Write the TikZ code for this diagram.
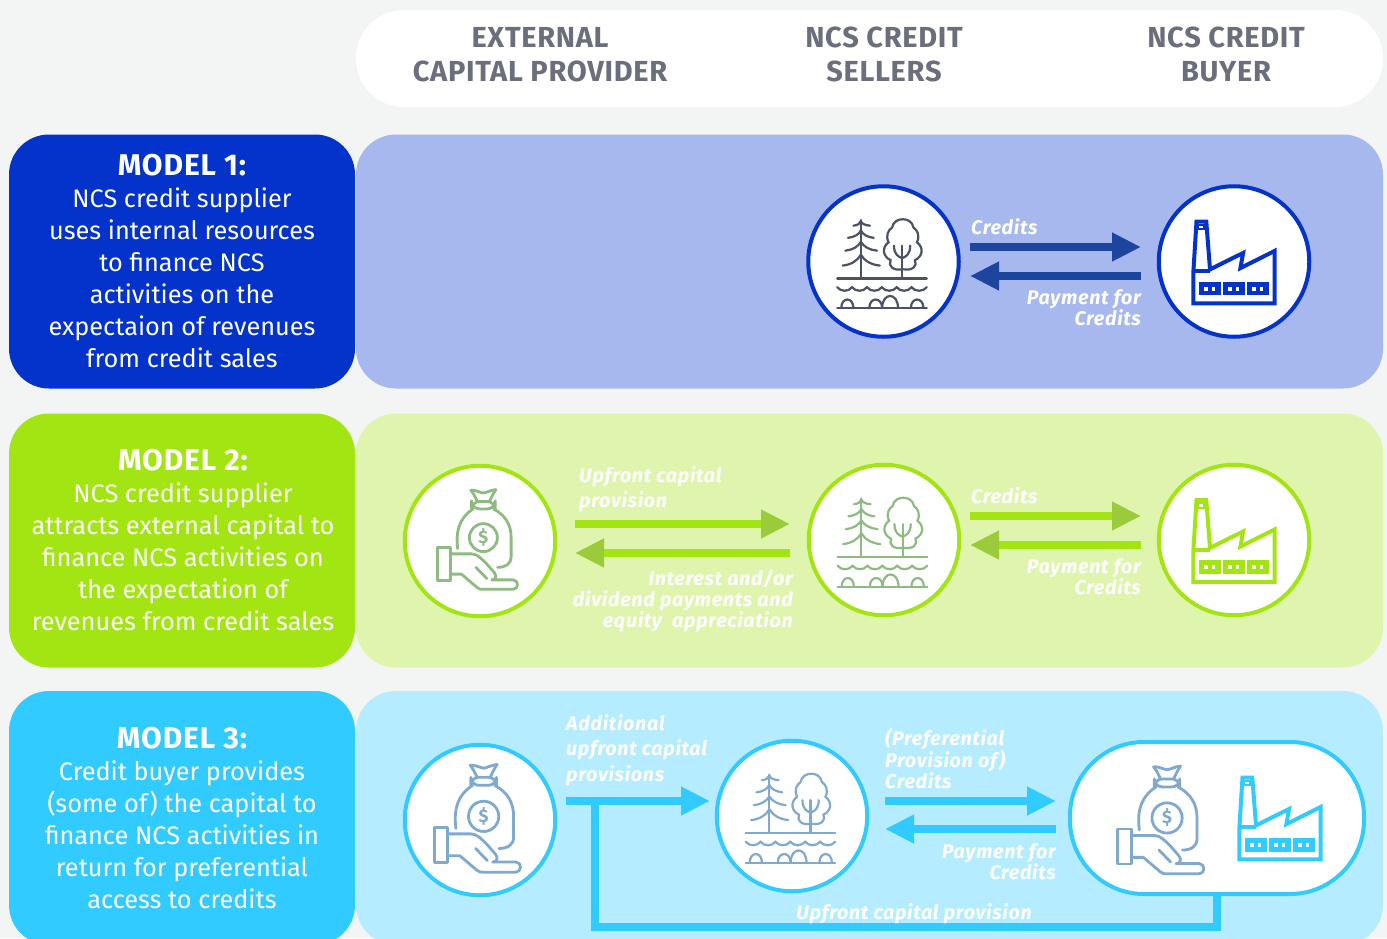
\documentclass[tikz,border=0pt]{standalone}
\usepackage{fontspec}
\setmainfont{Fira Sans}
\newfontfamily\lblfont[LetterSpace=3.5]{Fira Sans}
\newfontfamily\hdfont[LetterSpace=2.4]{Fira Sans}
\newfontfamily\ttlfont[LetterSpace=3]{Fira Sans}
\usetikzlibrary{arrows.meta}
\definecolor{bgc}{HTML}{F2F5F4}
\definecolor{hdc}{HTML}{6B6F7C}
\definecolor{mA}{HTML}{0433CC}
\definecolor{pA}{HTML}{A6B8EE}
\definecolor{arA}{HTML}{1D459F}
\definecolor{icA}{HTML}{4D5166}
\definecolor{mB}{HTML}{A2E512}
\definecolor{pB}{HTML}{DFF5AE}
\definecolor{hdB}{HTML}{9BCB3A}
\definecolor{icB}{HTML}{8DBB80}
\definecolor{mC}{HTML}{31CBFF}
\definecolor{pC}{HTML}{B6ECFF}
\definecolor{icC}{HTML}{80A9D0}
\newcommand{\modeltitle}[1]{{\ttlfont\fontsize{30}{34}\selectfont\bfseries #1}}
\tikzset{
 x=1pt,y=-1pt,
 modelbox/.style={rectangle,rounded corners=40pt,fill=#1,minimum width=346pt,minimum height=254pt,inner sep=0pt,outer sep=0pt},
 modeltext/.style={text=white,align=center,inner sep=0pt,font=\fontsize{25.3}{32}\selectfont},
 panel/.style={rectangle,rounded corners=40pt,fill=#1,minimum width=1027pt,minimum height=254pt,inner sep=0pt,outer sep=0pt},
 headtext/.style={text=hdc,align=center,font=\hdfont\fontsize{29}{34}\selectfont\bfseries},
 flowlabel/.style={text=white,inner sep=0pt,font=\lblfont\fontsize{19.7}{21}\selectfont\bfseries\itshape},
 flowlabelwide/.style={text=white,inner sep=0pt,font=\lblfont\fontsize{19.7}{25.5}\selectfont\bfseries\itshape},
 partycircle/.style={circle,draw=#1,fill=white,line width=4pt,minimum size=150.5pt,inner sep=0pt,outer sep=0pt},
 flowarrow/.style={line width=8pt,draw=#1,-{Triangle[length=29pt,width=27pt,color=#1]}},
 flowarrowtwo/.style={line width=8pt,draw=mB,-{Triangle[length=29pt,width=27pt,color=hdB]}},
 forest/.pic={
  \begin{scope}[x=.338pt,y=-.338pt,shift={(-247,-272)},draw=#1,line width=2.2pt,line cap=round]
   \draw (180,150)--(180,322);
   \draw (158,166) .. controls (170,165) and (178,160) .. (180,152) .. controls (182,160) and (192,165) .. (207,166);
   \draw (142,202) .. controls (160,200) and (175,192) .. (180,180) .. controls (185,192) and (200,200) .. (218,202);
   \draw (134,240) .. controls (155,238) and (172,228) .. (180,214) .. controls (188,228) and (206,238) .. (228,240);
   \draw (126,284) .. controls (150,282) and (170,270) .. (180,252) .. controls (190,270) and (212,282) .. (236,284);
   \draw (302,295) .. controls (275,300) and (260,285) .. (268,268)
     .. controls (246,258) and (240,232) .. (262,215)
     .. controls (252,195) and (262,178) .. (272,172)
     .. controls (276,152) and (292,147) .. (304,147)
     .. controls (316,147) and (332,152) .. (336,172)
     .. controls (346,178) and (356,195) .. (346,215)
     .. controls (368,232) and (362,258) .. (340,268)
     .. controls (348,285) and (333,300) .. (306,295);
   \draw (302,225)--(302,322);
   \draw (278,225) .. controls (278,250) and (290,258) .. (302,262);
   \draw (326,225) .. controls (326,250) and (314,258) .. (302,262);
   \draw (110,322)--(375,322);
   \draw (110,410)--(375,410);
   \draw (110,348) .. controls (120,362) and (144,362) .. (154,348) .. controls (164,362) and (188,362) .. (198,348)
     .. controls (208,362) and (232,362) .. (242,348) .. controls (252,362) and (276,362) .. (286,348)
     .. controls (296,362) and (320,362) .. (330,348) .. controls (340,362) and (365,362) .. (375,348);
   \draw (122,410) .. controls (122,376) and (158,376) .. (158,410);
   \draw (205,410) .. controls (205,376) and (243,376) .. (243,410);
   \draw (243,410) .. controls (243,362) and (290,362) .. (290,410);
   \draw (328,410) .. controls (328,376) and (365,376) .. (365,410);
  \end{scope}},
 factory/.pic={
  \begin{scope}[x=.338pt,y=-.33pt,shift={(-1283,-272)}]
   \draw[#1,line width=4pt,miter limit=10] (1163,399)--(1163,300)--(1172,151)--(1201,151)--(1212,296)--(1310,246)--(1302,292)--(1403,240)--(1403,399)--cycle;
   \draw[#1,line width=4pt] (1163,302)--(1212,302);
   \draw[#1,line width=2pt] (1176,160) rectangle (1195,174);
   \foreach \wx in {1180,1251,1322}{
     \fill[#1] (\wx,333) rectangle ++(64,42);
     \fill[white] (\wx+14,348) rectangle ++(11,12);
     \fill[white] (\wx+37,348) rectangle ++(11,12);
   }
  \end{scope}},
 moneybag/.pic={
  \begin{scope}[x=.338pt,y=-.338pt,shift={(-270,-272)},draw=#1,line width=2.8pt,line cap=round,line join=round]
   \draw (262,155) .. controls (255,140) and (250,130) .. (243,122) .. controls (255,120) and (268,128) .. (280,130) .. controls (292,128) and (305,120) .. (317,120) .. controls (310,130) and (305,140) .. (298,155);
   \draw[rounded corners=8pt] (245,155) rectangle (315,177);
   \draw (204,295) .. controls (198,250) and (205,205) .. (250,177);
   \draw (310,177) .. controls (345,195) and (362,225) .. (362,260) -- (362,320) .. controls (362,340) and (345,350) .. (322,350);
   \draw (280,262) circle[radius=14pt];
   \node[text=#1,inner sep=0pt,font=\fontsize{18}{18}\selectfont\bfseries] (dollar) at (280,262) {\$};
   \draw (145,292) rectangle (182,388);
   \draw (182,310) -- (245,310) .. controls (262,310) and (275,325) .. (290,340) -- (312,365) .. controls (322,378) and (315,387) .. (305,387);
   \draw (258,350) -- (290,383);
   \draw (182,370) -- (215,370) -- (262,410) .. controls (268,415) and (272,415) .. (280,415) -- (368,415) .. controls (385,415) and (385,387) .. (368,387) -- (305,387);
  \end{scope}}
}
\begin{document}
\begin{tikzpicture}
\clip (0,0) rectangle (1387,938);
\fill[bgc] (0,0) rectangle (1387,938);
% header
\node[rectangle,rounded corners=48pt,fill=white,minimum width=1027pt,minimum height=97pt,inner sep=0pt] (header) at (869.5,58.5) {};
\node[headtext] (h1) at (540,54.5) {EXTERNAL\\CAPITAL PROVIDER};
\node[headtext] (h2) at (884,54.5) {NCS CREDIT\\SELLERS};
\node[headtext] (h3) at (1226,54.5) {NCS CREDIT\\BUYER};
% panels
\node[panel=pA] (p1) at (869.5,261.5) {};
\node[panel=pB] (p2) at (869.5,540.5) {};
\node[panel=pC] (p3) at (869.5,818) {};
\node[modelbox=mA] (m1) at (182,261.5) {};
\node[modelbox=mB] (m2) at (182,540.5) {};
\node[modelbox=mC] (m3) at (182,818) {};
\node[modeltext] (t1) at (182,261) {\modeltitle{MODEL 1:}\\NCS credit supplier\\uses internal resources\\to finance NCS\\activities on the\\expectaion of revenues\\from credit sales};
\node[modeltext] (t2) at (183,540) {\modeltitle{MODEL 2:}\\NCS credit supplier\\attracts external capital to\\finance NCS activities on\\the expectation of\\revenues from credit sales};
\node[modeltext] (t3) at (182,818) {\modeltitle{MODEL 3:}\\Credit buyer provides\\(some of) the capital to\\finance NCS activities in\\return for preferential\\access to credits};
% model 1
\node[partycircle=mA] (s1) at (883.5,261.5) {};
\node[partycircle=mA] (b1) at (1234,261.5) {};
\pic at (s1) {forest=icA};
\pic at (b1) {factory=mA};
\coordinate (a1s) at (970,247); \coordinate (a1e) at (1141,247);
\coordinate (a2s) at (1141,276); \coordinate (a2e) at (970,276);
\draw[flowarrow=arA] (a1s) -- (a1e);
\draw[flowarrow=arA] (a2s) -- (a2e);
\node[flowlabel,anchor=west] (l1) at (971,227) {Credits};
\node[flowlabel,anchor=east,align=right] (l2) at (1141,307.5) {Payment for\\Credits};
% model 2
\node[partycircle=mB] (c2) at (480,541) {};
\node[partycircle=mB] (s2) at (884,540) {};
\node[partycircle=mB] (b2) at (1234,540) {};
\pic at (c2) {moneybag=icB};
\pic at (s2) {forest=icB};
\pic at (b2) {factory=mB};
\coordinate (b1s) at (575,524); \coordinate (b1e) at (790,524);
\coordinate (b2s) at (790,553); \coordinate (b2e) at (575,553);
\coordinate (b3s) at (970,516); \coordinate (b3e) at (1141,516);
\coordinate (b4s) at (1141,545); \coordinate (b4e) at (970,545);
\draw[flowarrowtwo] (b1s) -- (b1e);
\draw[flowarrowtwo] (b2s) -- (b2e);
\draw[flowarrowtwo] (b3s) -- (b3e);
\draw[flowarrowtwo] (b4s) -- (b4e);
\node[flowlabel,anchor=west] (l3) at (579,477) {Upfront capital};
\node[flowlabel,anchor=west] (l4) at (579,502) {provision};
\node[flowlabel,anchor=east,align=right] (l5) at (793,600.5) {Interest and/or\\dividend payments and\\equity\ \ appreciation};
\node[flowlabel,anchor=west] (l6) at (971,496) {Credits};
\node[flowlabel,anchor=east,align=right] (l7) at (1141,576.5) {Payment for\\Credits};
% model 3
\node[partycircle=mC] (c3) at (480,820) {};
\node[partycircle=mC] (s3) at (792,816) {};
\node[rectangle,rounded corners=74pt,draw=mC,fill=white,line width=4pt,minimum width=294pt,minimum height=152pt,inner sep=0pt,outer sep=0pt] (b3) at (1217,818) {};
\pic[scale=1.08] at (c3) {moneybag=icC};
\pic at (s3) {forest=icC};
\coordinate (mb) at (1163.4,821.6); \coordinate (fb) at (1280,817.5);
\pic[scale=1.08] at (mb) {moneybag=icC};
\pic at (fb) {factory=mC};
\coordinate (d1s) at (566,801); \coordinate (d1e) at (710,801);
\coordinate (d2s) at (885,801); \coordinate (d2e) at (1056,801);
\coordinate (d3s) at (1056,829); \coordinate (d3e) at (885,829);
\coordinate (fs) at (595,801); \coordinate (fm) at (1217,927);
\draw[flowarrow=mC] (d1s) -- (d1e);
\draw[flowarrow=mC] (d2s) -- (d2e);
\draw[flowarrow=mC] (d3s) -- (d3e);
\draw[mC,line width=7.5pt] (fs) |- (fm) -- (b3.south);
\node[flowlabelwide,anchor=west,align=left] (l8) at (566,750) {Additional\\upfront capital\\provisions};
\node[flowlabel,anchor=west,align=left] (l9) at (885,759) {(Preferential\\Provision of)\\Credits};
\node[flowlabel,anchor=east,align=right] (l10) at (1056,861.5) {Payment for\\Credits};
\node[flowlabel] (l11) at (914,913.5) {Upfront capital provision};
\end{tikzpicture}
\end{document}
